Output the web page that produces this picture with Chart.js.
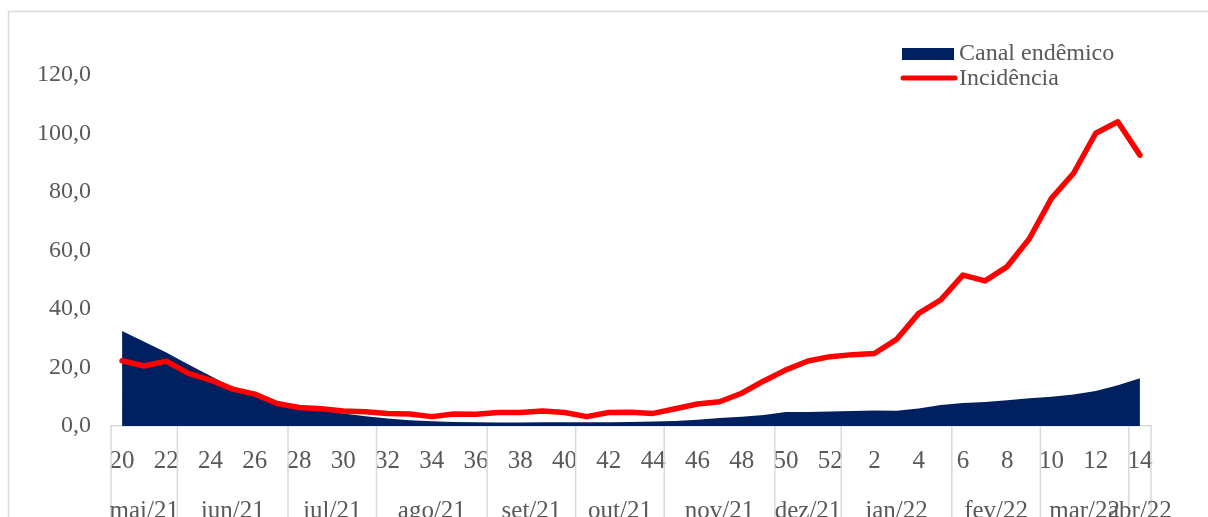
<!DOCTYPE html>
<html lang="pt">
<head>
<meta charset="utf-8">
<script src="https://cdn.jsdelivr.net/npm/chart.js@4.4.1/dist/chart.umd.min.js"></script>
<style>
    html, body { margin: 0; padding: 0; background: #fff; }
    #wrap { width: 1208px; height: 517px; }
</style>
</head>
<body>
<div id="wrap"><canvas id="chartCanal" width="1208" height="517"></canvas></div>
<script>
const semanas = ['20','21','22','23','24','25','26','27','28','29','30','31','32','33','34','35','36',
    '37','38','39','40','41','42','43','44','45','46','47','48','49','50','51','52',
    '1','2','3','4','5','6','7','8','9','10','11','12','13','14'];

const canalEndemico = [32.5, 28.8, 25.1, 21.0, 17.1, 13.2, 10.5, 7.8, 6.3, 5.2, 4.3, 3.3, 2.6, 2.0, 1.6, 1.4, 1.3,
    1.2, 1.2, 1.3, 1.3, 1.3, 1.3, 1.4, 1.5, 1.7, 2.1, 2.7, 3.2, 3.8, 4.8, 4.8, 5.0,
    5.1, 5.3, 5.2, 6.0, 7.2, 7.9, 8.2, 8.8, 9.5, 10.0, 10.8, 12.0, 13.9, 16.3];

const incidencia = [22.3, 20.5, 22.2, 18.0, 15.7, 12.6, 10.9, 7.7, 6.3, 5.9, 5.1, 4.9, 4.3, 4.1, 3.2, 4.1, 4.0,
    4.6, 4.6, 5.1, 4.6, 3.2, 4.6, 4.7, 4.3, 5.9, 7.5, 8.3, 11.2, 15.4, 19.2, 22.2, 23.7,
    24.4, 24.8, 29.6, 38.5, 43.1, 51.6, 49.6, 54.5, 64.0, 77.8, 86.4, 100.1, 104.0, 92.6];

const meses = ['mai/21','jun/21','jul/21','ago/21','set/21','out/21','nov/21','dez/21','jan/22','fev/22','mar/22','abr/22'];
const semanasPorMes = [3, 5, 4, 5, 4, 4, 5, 3, 5, 4, 4, 1];

const corTexto = '#595959';
const corLinhas = '#D9D9D9';
const fonte = '"Liberation Serif", "Times New Roman", serif';

// moldura cinza do grafico (estilo Excel)
const moldura = {
    id: 'moldura',
    beforeDraw(chart) {
        const ctx = chart.ctx;
        ctx.save();
        ctx.strokeStyle = corLinhas;
        ctx.lineWidth = 1.5;
        ctx.strokeRect(8.5, 11.5, 1400, 700);
        ctx.restore();
    }
};

// segundo nivel do eixo x : meses + separadores
const eixoMeses = {
    id: 'eixoMeses',
    afterDraw(chart) {
        const ctx = chart.ctx;
        const x = chart.scales.x;
        const meia = (x.getPixelForValue(1) - x.getPixelForValue(0)) / 2;
        const topo = chart.chartArea.bottom;
        ctx.save();
        ctx.strokeStyle = corLinhas;
        ctx.lineWidth = 1.5;
        ctx.fillStyle = corTexto;
        ctx.font = '25px ' + fonte;
        ctx.textAlign = 'center';
        ctx.textBaseline = 'alphabetic';
        let inicio = 0;
        const linha = px => {
            ctx.beginPath();
            ctx.moveTo(px, topo);
            ctx.lineTo(px, chart.height + 2);
            ctx.stroke();
        };
        linha(x.getPixelForValue(0) - meia);
        meses.forEach((mes, i) => {
            const fim = inicio + semanasPorMes[i] - 1;
            const esq = x.getPixelForValue(inicio) - meia;
            const dir = x.getPixelForValue(fim) + meia;
            linha(dir);
            ctx.fillText(mes, (esq + dir) / 2, 518);
            inicio = fim + 1;
        });
        ctx.restore();
    }
};

// legenda desenhada a mao (canto superior direito)
const legenda = {
    id: 'legenda',
    afterDraw(chart) {
        const ctx = chart.ctx;
        const ds = chart.data.datasets;
        ctx.save();
        ctx.font = '24px ' + fonte;
        ctx.textBaseline = 'middle';
        // area
        ctx.fillStyle = ds[1].backgroundColor;
        ctx.fillRect(902, 48, 52, 12);
        ctx.fillStyle = corTexto;
        ctx.fillText(ds[1].label, 959, 54);
        // linha
        ctx.strokeStyle = ds[0].borderColor;
        ctx.lineWidth = 5;
        ctx.lineCap = 'round';
        ctx.beginPath();
        ctx.moveTo(903, 78);
        ctx.lineTo(955, 78);
        ctx.stroke();
        ctx.fillText(ds[0].label, 959, 79);
        ctx.restore();
    }
};

function desenharCanalEndemico() {
    const canvas = document.getElementById('chartCanal');
    if (!canvas) {
        console.error('Canvas #chartCanal nao encontrado');
        return;
    }
    const ctx = canvas.getContext('2d');

    new Chart(ctx, {
        type: 'line',
        data: {
            labels: semanas,
            datasets: [{
                label: 'Incidência',
                data: incidencia,
                borderColor: '#FF0000',
                borderWidth: 5.5,
                borderJoinStyle: 'round',
                borderCapStyle: 'round',
                pointRadius: 0,
                tension: 0,
                fill: false,
                order: 0
            }, {
                label: 'Canal endêmico',
                data: canalEndemico,
                backgroundColor: '#002060',
                borderColor: '#002060',
                borderWidth: 0,
                pointRadius: 0,
                tension: 0,
                fill: 'origin',
                order: 1
            }]
        },
        options: {
            responsive: false,
            animation: false,
            layout: { padding: { left: 0, right: 57, top: 16.5, bottom: 0 } },
            plugins: {
                legend: { display: false },
                tooltip: { enabled: false }
            },
            scales: {
                x: {
                    offset: true,
                    grid: { display: false, drawTicks: false },
                    border: { display: true, color: corLinhas, width: 1.5 },
                    ticks: {
                        autoSkip: false,
                        maxRotation: 0,
                        padding: 20,
                        color: corTexto,
                        font: { family: fonte, size: 25 },
                        callback: (v, i) => i % 2 === 0 ? semanas[i] : ''
                    },
                    afterFit: scale => {
                        scale.height = 91;
                        scale.paddingLeft = 0;
                        scale.paddingRight = 0;
                    }
                },
                y: {
                    min: 0,
                    max: 140,
                    grid: { display: false, drawTicks: false },
                    border: { display: false },
                    ticks: {
                        stepSize: 20,
                        padding: 20,
                        color: corTexto,
                        font: { family: fonte, size: 24 },
                        callback: v => v >= 140 ? '' : v.toFixed(1).replace('.', ',')
                    },
                    afterFit: scale => {
                        scale.width = 111;
                        scale.paddingTop = 0;
                        scale.paddingBottom = 0;
                    }
                }
            }
        },
        plugins: [moldura, eixoMeses, legenda]
    });
}

desenharCanalEndemico();
</script>
</body>
</html>
